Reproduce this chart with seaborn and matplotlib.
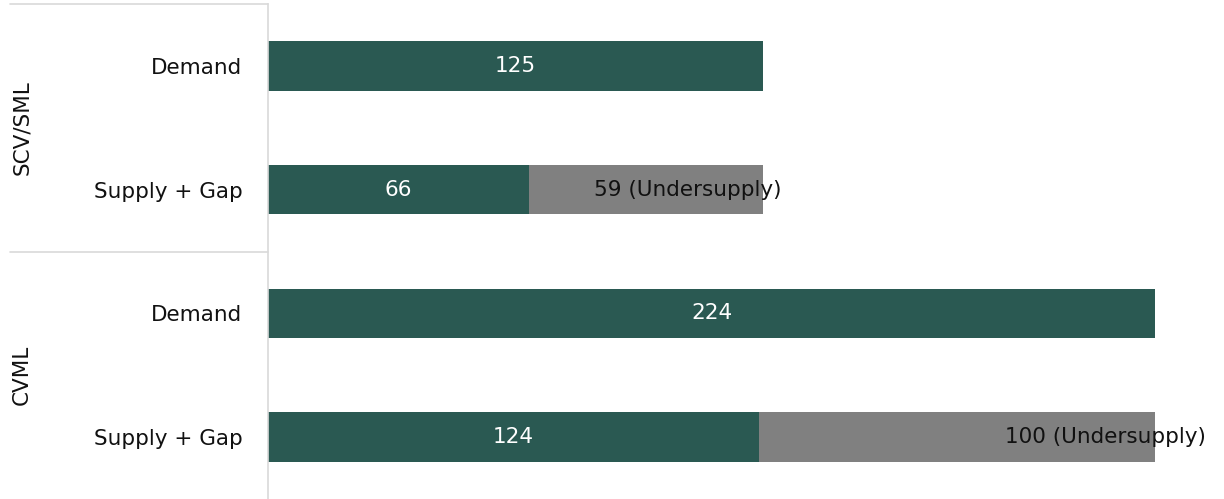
import matplotlib
matplotlib.use("Agg")
import matplotlib.pyplot as plt
import matplotlib.transforms as mtransforms
import seaborn as sns
import pandas as pd

# ---- data ----
groups = ["SCV/SML", "SCV/SML", "CVML", "CVML"]
row_labels = ["Demand", "Supply + Gap", "Demand", "Supply + Gap"]
base_values = [125, 66, 224, 124]      # green segment (demand or supply)
gap_values = [0, 59, 0, 100]           # grey segment (undersupply)
gap_label_pos = [None, 106, None, 211.6]  # where the gap label is centred (data units)

GREEN = "#2A5952"
GREY = "#808080"
FS = 15.5

row_ids = [f"{g}|{r}|{i}" for i, (g, r) in enumerate(zip(groups, row_labels))]
df = pd.DataFrame({
    "row": row_ids,
    "base": base_values,
    "gap": gap_values,
})
df["total"] = df["base"] + df["gap"]

sns.set_theme(style="white")
plt.rcParams["font.family"] = ["DejaVu Sans"]

fig = plt.figure(figsize=(12.24, 4.99), dpi=100)
ax = fig.add_axes([268 / 1224, 0, 1 - 268 / 1224, 1 - 4 / 499])

sns.barplot(data=df, y="row", x="total", order=row_ids, color=GREY,
            orient="h", width=0.4, saturation=1, linewidth=0, ax=ax)
sns.barplot(data=df, y="row", x="base", order=row_ids, color=GREEN,
            orient="h", width=0.4, saturation=1, linewidth=0, ax=ax)

ax.set_xlim(0, (1224 - 268) / 3.96)
ax.set_ylim(3.5, -0.5)
ax.set_xlabel("")
ax.set_ylabel("")
ax.set_xticks([])
ax.set_yticks(range(len(row_ids)))
ax.set_yticklabels(row_labels, fontsize=FS, color="#111111")
ax.tick_params(axis="y", length=0, pad=18.5)

for s in ["top", "right", "bottom"]:
    ax.spines[s].set_visible(False)
ax.spines["left"].set_color("#D9D9D9")
ax.spines["left"].set_linewidth(1.2)

# value labels
for i, (b, g) in enumerate(zip(base_values, gap_values)):
    ax.text(b / 2, i, f"{b}", ha="center", va="center",
            color="white", fontsize=FS)
    if g > 0:
        ax.text(gap_label_pos[i], i, f"{g} (Undersupply)", ha="center",
                va="center", color="#111111", fontsize=FS, clip_on=False)

# group separators and labels
trans = mtransforms.blended_transform_factory(ax.transAxes, ax.transData)
x0 = (10 - 268) / (1224 - 268)
for yline in [-0.5, 1.5]:
    ax.plot([x0, 0], [yline, yline], transform=trans, color="#D9D9D9",
            lw=1.2, clip_on=False)

group_names = []
for g in groups:
    if g not in group_names:
        group_names.append(g)
for gname in group_names:
    idx = [i for i, g in enumerate(groups) if g == gname]
    yc = sum(idx) / len(idx)
    ax.text((22 - 268) / (1224 - 268), yc, gname, transform=trans,
            rotation=90, ha="center", va="center", fontsize=FS,
            color="#111111", clip_on=False)

fig.savefig("out.png", dpi=100)
